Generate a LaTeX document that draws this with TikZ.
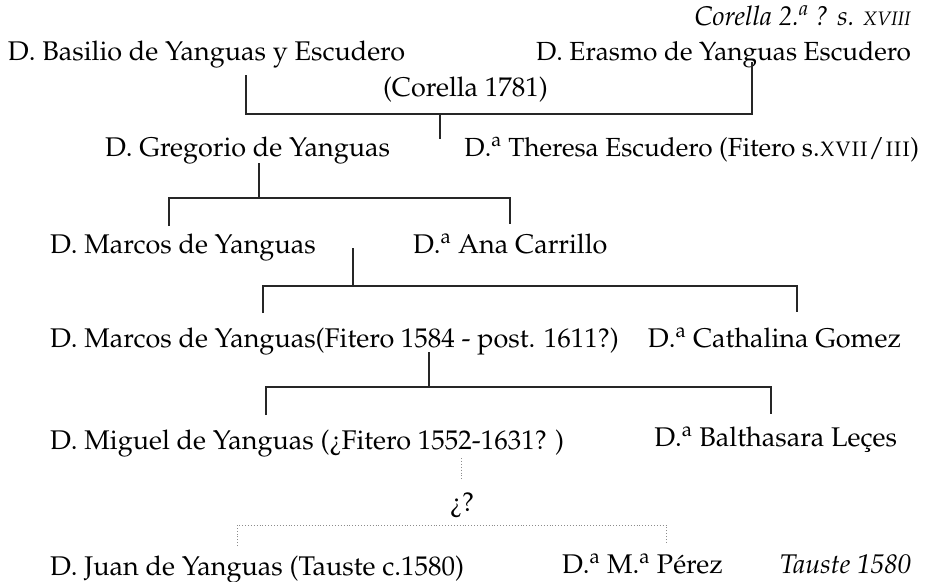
\documentclass[tikz,border=0pt]{standalone}
\usepackage[T1]{fontenc}
\usepackage{mathpazo}
\newcommand{\Da}{D.\textsuperscript{a}}
\begin{document}
\begin{tikzpicture}[x=1pt,y=-1pt,
  person/.style={inner sep=0pt, outer sep=0pt, font=\fontsize{27}{30}\selectfont},
  link/.style={line width=1.3pt, black!85},
  unsure/.style={line width=0.9pt, black!45, dotted}]
\useasboundingbox (0,0) rectangle (928,581);
% texts
\node[person, anchor=base east] (top) at (911,25) {\textit{Corella 2.\textsuperscript{a} ? s. {\fontsize{19.5}{21}\selectfont XVIII}}};
\node[person, anchor=base west] (basilio) at (8,60) {D. Basilio de Yanguas y Escudero};
\node[person, anchor=base east, font=\fontsize{26.2}{30}\selectfont] (erasmo) at (911,60) {D. Erasmo de Yanguas Escudero};
\node[person, anchor=base west] (corella) at (383,96) {(Corella 1781)};
\node[person, anchor=base west] (gregorio) at (105,156) {D. Gregorio de Yanguas};
\node[person, anchor=base east, font=\fontsize{26.2}{30}\selectfont] (theresa) at (919,156) {\Da{} Theresa Escudero (Fitero s.\textsc{xvii/iii})};
\node[person, anchor=base west] (marcosA) at (50,253) {D. Marcos de Yanguas};
\node[person, anchor=base west] (ana) at (413,253) {\Da{} Ana Carrillo};
\node[person, anchor=base west] (marcosB) at (50,347) {D. Marcos de Yanguas(Fitero 1584 - post. 1611?)};
\node[person, anchor=base east] (cathalina) at (901,347) {\Da{} Cathalina Gomez};
\node[person, anchor=base west] (miguel) at (50,449) {D. Miguel de Yanguas (\textquestiondown Fitero 1552-1631? )};
\node[person, anchor=base east] (balthasara) at (897,446) {\Da{} Balthasara Le\c{c}es};
\node[person, anchor=base] (quest) at (462,511) {\textquestiondown?};
\node[person, anchor=base west] (juan) at (50,575) {D. Juan de Yanguas (Tauste c.1580)};
\node[person, anchor=base west] (perez) at (562,573) {\Da{} M.\textsuperscript{a} P\'erez};
\node[person, anchor=base east] (tauste) at (911,573) {\textit{Tauste 1580}};
% bracket points
\coordinate (b1l) at (246,75);  \coordinate (b1r) at (752,62);
\coordinate (b1h) at (752,114); \coordinate (b1m) at (440,114); \coordinate (b1d) at (440,139);
\coordinate (g2t) at (259,163); \coordinate (g2b) at (259,198);
\coordinate (b2l) at (169,226); \coordinate (b2h) at (510,198); \coordinate (b2r) at (510,224);
\coordinate (m3t) at (353,248); \coordinate (m3b) at (353,286);
\coordinate (b3l) at (263,313); \coordinate (b3h) at (797,286); \coordinate (b3r) at (797,312);
\coordinate (m4t) at (429,352); \coordinate (m4b) at (429,387);
\coordinate (b4l) at (266,415); \coordinate (b4h) at (771,387); \coordinate (b4r) at (771,414);
\coordinate (q5t) at (461,458); \coordinate (q5b) at (461,480);
\coordinate (b5l) at (237,546); \coordinate (b5h) at (666,525); \coordinate (b5r) at (666,543);
% connectors
\draw[link] (b1l) |- (b1h) -- (b1r);
\draw[link] (b1m) -- (b1d);
\draw[link] (g2t) -- (g2b);
\draw[link] (b2l) |- (b2h) -- (b2r);
\draw[link] (m3t) -- (m3b);
\draw[link] (b3l) |- (b3h) -- (b3r);
\draw[link] (m4t) -- (m4b);
\draw[link] (b4l) |- (b4h) -- (b4r);
\draw[unsure] (q5t) -- (q5b);
\draw[unsure] (b5l) |- (b5h) -- (b5r);
\end{tikzpicture}
\end{document}
